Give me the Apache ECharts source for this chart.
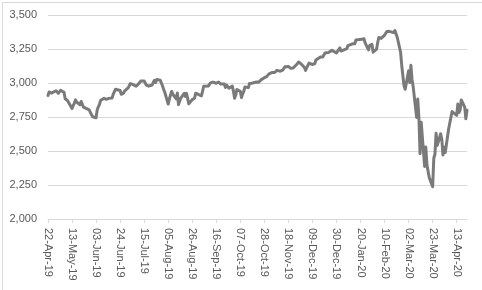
<!DOCTYPE html>
<html><head><meta charset="utf-8">
<script src="https://cdn.jsdelivr.net/npm/echarts@6/dist/echarts.min.js"></script>
<style>html,body{margin:0;padding:0;background:#fff}#c{width:482px;height:290px}</style>
</head><body><div id="c"></div>
<script>
const startDate = '2019-04-22';
const endDate = '2020-04-22';
const tickStepDays = 21;
const yTicks = [2000, 2250, 2500, 2750, 3000, 3250, 3500];
const dates = [
'2019-04-22','2019-04-23','2019-04-24','2019-04-25','2019-04-26','2019-04-29','2019-04-30','2019-05-01','2019-05-02','2019-05-03',
'2019-05-06','2019-05-07','2019-05-08','2019-05-09','2019-05-10','2019-05-13','2019-05-14','2019-05-15','2019-05-16','2019-05-17',
'2019-05-20','2019-05-21','2019-05-22','2019-05-23','2019-05-24','2019-05-28','2019-05-29','2019-05-30','2019-05-31',
'2019-06-03','2019-06-04','2019-06-05','2019-06-06','2019-06-07','2019-06-10','2019-06-11','2019-06-12','2019-06-13','2019-06-14',
'2019-06-17','2019-06-18','2019-06-19','2019-06-20','2019-06-21','2019-06-24','2019-06-25','2019-06-26','2019-06-27','2019-06-28',
'2019-07-01','2019-07-02','2019-07-03','2019-07-05','2019-07-08','2019-07-09','2019-07-10','2019-07-11','2019-07-12',
'2019-07-15','2019-07-16','2019-07-17','2019-07-18','2019-07-19','2019-07-22','2019-07-23','2019-07-24','2019-07-25','2019-07-26',
'2019-07-29','2019-07-30','2019-07-31','2019-08-01','2019-08-02','2019-08-05','2019-08-06','2019-08-07','2019-08-08','2019-08-09',
'2019-08-12','2019-08-13','2019-08-14','2019-08-15','2019-08-16','2019-08-19','2019-08-20','2019-08-21','2019-08-22','2019-08-23',
'2019-08-26','2019-08-27','2019-08-28','2019-08-29','2019-08-30','2019-09-03','2019-09-04','2019-09-05','2019-09-06',
'2019-09-09','2019-09-10','2019-09-11','2019-09-12','2019-09-13','2019-09-16','2019-09-17','2019-09-18','2019-09-19','2019-09-20',
'2019-09-23','2019-09-24','2019-09-25','2019-09-26','2019-09-27','2019-09-30','2019-10-01','2019-10-02','2019-10-03','2019-10-04',
'2019-10-07','2019-10-08','2019-10-09','2019-10-10','2019-10-11','2019-10-14','2019-10-15','2019-10-16','2019-10-17','2019-10-18',
'2019-10-21','2019-10-22','2019-10-23','2019-10-24','2019-10-25','2019-10-28','2019-10-29','2019-10-30','2019-10-31','2019-11-01',
'2019-11-04','2019-11-05','2019-11-06','2019-11-07','2019-11-08','2019-11-11','2019-11-12','2019-11-13','2019-11-14','2019-11-15',
'2019-11-18','2019-11-19','2019-11-20','2019-11-21','2019-11-22','2019-11-25','2019-11-26','2019-11-27','2019-11-29',
'2019-12-02','2019-12-03','2019-12-04','2019-12-05','2019-12-06','2019-12-09','2019-12-10','2019-12-11','2019-12-12','2019-12-13',
'2019-12-16','2019-12-17','2019-12-18','2019-12-19','2019-12-20','2019-12-23','2019-12-24','2019-12-26','2019-12-27',
'2019-12-30','2019-12-31','2020-01-02','2020-01-03','2020-01-06','2020-01-07','2020-01-08','2020-01-09','2020-01-10',
'2020-01-13','2020-01-14','2020-01-15','2020-01-16','2020-01-17','2020-01-21','2020-01-22','2020-01-23','2020-01-24',
'2020-01-27','2020-01-28','2020-01-29','2020-01-30','2020-01-31','2020-02-03','2020-02-04','2020-02-05','2020-02-06','2020-02-07',
'2020-02-10','2020-02-11','2020-02-12','2020-02-13','2020-02-14','2020-02-18','2020-02-19','2020-02-20','2020-02-21',
'2020-02-24','2020-02-25','2020-02-26','2020-02-27','2020-02-28','2020-03-02','2020-03-03','2020-03-04','2020-03-05','2020-03-06',
'2020-03-09','2020-03-10','2020-03-11','2020-03-12','2020-03-13','2020-03-16','2020-03-17','2020-03-18','2020-03-19','2020-03-20',
'2020-03-23','2020-03-24','2020-03-25','2020-03-26','2020-03-27','2020-03-30','2020-03-31','2020-04-01','2020-04-02','2020-04-03',
'2020-04-06','2020-04-07','2020-04-08','2020-04-09','2020-04-13','2020-04-14','2020-04-15','2020-04-16','2020-04-17',
'2020-04-20','2020-04-21','2020-04-22'
];
const closes = [
2908,2934,2927,2926,2940,2943,2946,2924,2918,2946,
2932,2884,2879,2871,2881,2812,2834,2851,2876,2860,
2840,2864,2856,2822,2826,2802,2783,2789,2752,
2744,2803,2826,2843,2873,2887,2886,2880,2892,2887,
2890,2918,2926,2954,2950,2945,2917,2914,2925,2942,
2964,2973,2996,2990,2976,2980,2993,3000,3014,
3014,3004,2984,2995,2977,2985,3005,3020,3004,3026,
3021,3013,2980,2954,2932,2845,2882,2884,2938,2919,
2883,2926,2841,2848,2889,2924,2901,2924,2923,2847,
2878,2869,2888,2925,2926,2906,2938,2976,2979,
2978,2979,3001,3010,3007,2998,3006,3007,3007,2992,
2992,2967,2985,2978,2962,2977,2940,2888,2911,2952,
2939,2893,2919,2938,2970,2966,2996,2990,2998,2986,
3007,2996,3005,3010,3023,3039,3037,3047,3038,3067,
3078,3075,3077,3085,3093,3087,3092,3094,3097,3120,
3122,3120,3108,3104,3110,3134,3141,3154,3141,
3114,3093,3113,3117,3146,3136,3133,3142,3169,3169,
3191,3193,3191,3205,3221,3224,3223,3240,3240,
3221,3231,3258,3235,3246,3237,3253,3275,3265,
3288,3283,3289,3317,3330,3321,3322,3326,3295,
3244,3276,3273,3284,3226,3249,3298,3335,3346,3328,
3352,3358,3379,3374,3380,3370,3386,3373,3338,
3226,3128,3116,2979,2954,3090,3003,3130,3024,2972,
2747,2882,2741,2481,2711,2386,2529,2398,2409,2305,
2237,2447,2476,2630,2541,2627,2585,2471,2527,2489,
2664,2659,2750,2790,2762,2846,2783,2800,2875,
2823,2737,2799
];

const DAY = 86400000;
const t0 = Date.parse(startDate + 'T00:00:00Z');
const dayIndex = d => Math.round((Date.parse(d + 'T00:00:00Z') - t0) / DAY);
const maxDay = dayIndex(endDate);
const months = ['Jan','Feb','Mar','Apr','May','Jun','Jul','Aug','Sep','Oct','Nov','Dec'];
function fmtDay(v) {
  const dt = new Date(t0 + v * DAY);
  const dd = String(dt.getUTCDate()).padStart(2, '0');
  const yy = String(dt.getUTCFullYear()).slice(2);
  return dd + '-' + months[dt.getUTCMonth()] + '-' + yy;
}
const seriesData = dates.map((d, i) => [dayIndex(d), closes[i]]);

const chart = echarts.init(document.getElementById('c'), null, {renderer: 'canvas'});
chart.setOption({
  animation: false,
  backgroundColor: '#ffffff',
  textStyle: {fontFamily: 'Liberation Sans, Arial, sans-serif'},
  graphic: [{
    type: 'rect', left: 0, top: 0, silent: true,
    shape: {x: 0.5, y: 0.5, width: 481, height: 289},
    style: {fill: 'none', stroke: '#d9d9d9', lineWidth: 1}
  }],
  grid: {left: 48, right: 15, top: 15, bottom: 71, containLabel: false},
  xAxis: {
    type: 'value', min: 0, max: maxDay, interval: tickStepDays,
    axisLine: {show: true, lineStyle: {color: '#d9d9d9', width: 1}},
    axisTick: {show: true, length: 4, lineStyle: {color: '#d9d9d9'}},
    splitLine: {show: false},
    axisLabel: {
      rotate: -90, margin: 9, color: '#595959', fontSize: 11,
      showMaxLabel: false,
      formatter: v => (v % tickStepDays === 0 ? fmtDay(v) : '')
    }
  },
  yAxis: {
    type: 'value', min: yTicks[0], max: yTicks[yTicks.length - 1], interval: 250,
    axisLine: {show: false}, axisTick: {show: false},
    splitLine: {lineStyle: {color: '#d9d9d9', width: 1}},
    axisLabel: {
      color: '#595959', fontSize: 11, margin: 11,
      formatter: v => v.toLocaleString('en-US')
    }
  },
  series: [{
    type: 'line', data: seriesData, showSymbol: false, symbol: 'none',
    lineStyle: {color: '#7a7a7a', width: 3, join: 'round', cap: 'round'},
    itemStyle: {color: '#7a7a7a'}
  }]
});
</script></body></html>
